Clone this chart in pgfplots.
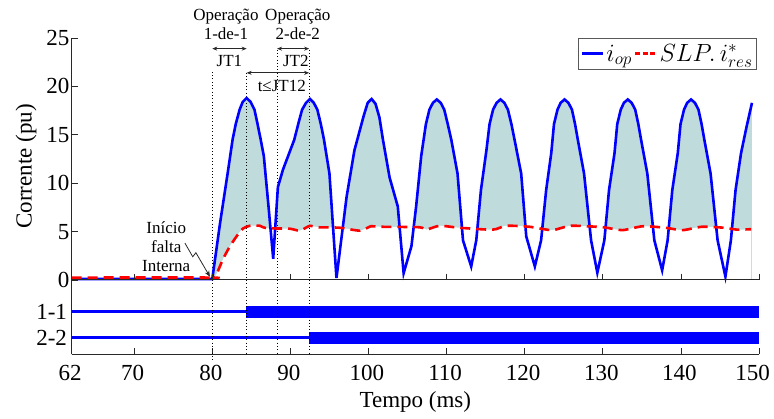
\documentclass[border=0pt]{standalone}
\usepackage{fontspec}
\setmainfont{Liberation Serif}
\usepackage{pgfplots}
\pgfplotsset{compat=1.18}
\usepackage{pgfplotstable}
\usetikzlibrary{arrows.meta}

\definecolor{fillc}{RGB}{191,219,219}
\definecolor{axc}{RGB}{40,40,40}
\newcommand\tickfont{\fontsize{23}{23}\selectfont}
\newcommand\annfont{\fontsize{17}{19}\selectfont}

\pgfplotstableread{
t v
62 0.1
80.0 0.1
81.0 5.9
82.0 11.2
82.6 14.5
83.0 16.1
83.5 17.6
83.9 18.4
84.4 18.8
84.9 18.4
85.4 17.6
85.8 16.1
86.2 14.5
86.6 12.8
87.2 7.6
87.8 2.2
88.4 9.6
89.05 11.4
90.5 14.5
91.0 16.1
91.5 17.6
92.0 18.3
92.5 18.7
93.0 18.3
93.45 17.6
93.9 16.1
94.3 14.5
95.0 11.0
95.9 0.2
97.2 8.6
98.2 13.4
98.9 15.5
99.4 17.0
99.9 18.3
100.4 18.7
100.9 18.2
101.4 16.8
101.85 14.5
102.7 10.6
103.75 7.6
104.5 0.7
105.5 3.5
106.1 7.6
106.75 12.8
107.35 16.1
107.8 17.6
108.25 18.3
108.75 18.65
109.25 18.3
109.7 17.6
110.15 16.1
110.6 14.5
111.4 11.0
112.1 4.1
113.15 1.4
113.8 4.1
114.4 9.3
115.1 13.4
115.5 16.1
115.95 17.6
116.4 18.3
116.9 18.65
117.4 18.3
117.85 17.6
118.3 16.1
118.7 14.5
119.55 11.0
120.2 4.5
121.3 1.4
122.1 4.1
122.75 9.3
123.4 13.1
123.75 16.1
124.2 17.6
124.6 18.3
125.1 18.65
125.6 18.3
126.05 17.6
126.45 16.1
126.8 14.5
127.6 11.0
128.5 4.1
129.3 0.75
130.2 4.1
130.8 9.3
131.5 13.1
131.85 16.1
132.3 17.6
132.7 18.3
133.2 18.65
133.7 18.3
134.15 17.6
134.55 16.1
134.9 14.5
135.7 11.0
136.6 4.1
137.6 1.0
138.3 4.1
138.9 9.3
139.6 13.1
139.95 16.1
140.4 17.6
140.8 18.3
141.3 18.65
141.8 18.3
142.25 17.6
142.65 16.1
143.0 14.5
143.8 11.0
144.7 4.1
145.7 0.35
146.4 4.1
147.0 9.3
147.7 13.1
148.4 15.8
149.1 18.3
}\bluedata

\pgfplotstableread{
t v
62 0.25
79.9 0.25
80.2 0.15
80.6 0.7
81.4 2.2
82.2 3.4
83.1 4.5
83.9 5.3
84.8 5.6
86.1 5.6
86.9 5.35
89.9 5.3
91.2 5.1
92.5 5.6
93.5 5.45
96.3 5.4
98.9 5.1
100.3 5.55
101.4 5.5
106.5 5.45
107.4 5.2
109.1 5.6
111.6 5.4
115.9 5.2
117.6 5.6
120.6 5.5
123.5 5.15
125.9 5.6
130.0 5.45
132.5 5.15
135.1 5.55
138.0 5.4
140.2 5.15
142.7 5.5
145.5 5.4
147.2 5.2
149.0 5.25
}\reddata

\tikzset{dotl/.style={black, line width=0.7pt, dash pattern=on 0.7pt off 2.6pt},
  jt/.style={{Stealth[length=5pt,width=4pt]}-{Stealth[length=5pt,width=4pt]}, line width=0.7pt, axc}}

\pgfplotsset{common/.style={
  scale only axis, width=687.3pt, xmin=62, xmax=150,
  axis x line*=bottom, axis y line*=left,
  axis line style={-, axc, line width=1pt},
  xtick={62,70,80,90,100,110,120,130,140},
  extra x ticks={150},
  tick align=inside, major tick length=6pt,
  tick style={axc, line width=0.8pt},
  hide obscured x ticks=false, hide obscured y ticks=false,
  /pgf/number format/assume math mode=true,
  ticklabel style={font=\tickfont},
  label style={font=\tickfont},
  clip=false,
}}

\begin{document}
\begin{tikzpicture}
\useasboundingbox (-71.7pt,-64.7pt) rectangle (702.3pt,354.3pt);

% lower axis: trip signals
\begin{axis}[common, at={(0pt,0pt)}, anchor=south west, height=74.3pt,
  ymin=0.36, ymax=3.22, ytick={1,2}, yticklabels={2-2,1-1},
  yticklabel style={anchor=east, inner sep=0pt, xshift=-4.5pt},
  xticklabel style={anchor=north, inner sep=0pt, yshift=-10.7pt, xshift=-1.5pt},
  extra x tick style={xticklabel style={xshift=-5pt}},
  xlabel={Tempo (ms)},
  xlabel style={at={(axis description cs:0.5,0)}, anchor=center, yshift=-47.7pt},
]
\addplot[blue, line width=3.5pt] coordinates {(62,2) (84.3,2)};
\addplot[blue, line width=12pt] coordinates {(84.3,2) (150,2)};
\addplot[blue, line width=3.5pt] coordinates {(62,1) (85,1)};
\addplot[blue, line width=2.6pt] coordinates {(85,1) (92.4,1)};
\addplot[blue, line width=12pt] coordinates {(92.4,1) (150,1)};
\draw[dotl] (axis cs:80,3.22) -- (axis cs:80,0.13);
\draw[dotl] (axis cs:84.4,3.22) -- (axis cs:84.4,0.36);
\draw[dotl] (axis cs:88.3,3.22) -- (axis cs:88.3,0.36);
\draw[dotl] (axis cs:92.4,3.22) -- (axis cs:92.4,0.36);
\end{axis}

% upper axis: currents
\begin{axis}[common, at={(0pt,74.3pt)}, anchor=south west, height=242pt,
  ymin=0, ymax=25, ytick={0,5,10,15,20,25}, xticklabels={},
  extra x tick labels={},
  axis on top,
  yticklabel style={anchor=east, inner sep=0pt, xshift=-2pt},
  ylabel={Corrente (pu)},
  ylabel style={at={(axis description cs:-0.0665,0.469)}, anchor=center},
  legend style={at={(0.997,1.0)}, anchor=north east, draw=black!65, line width=0.8pt,
    font=\fontsize{26}{26}\selectfont, inner xsep=2pt, inner ysep=4pt,
    /tikz/every even column/.append style={column sep=0pt}},
  legend columns=-1,
  legend image code/.code={\draw[#1] (0pt,0pt) -- (21pt,0pt);},
]
\addplot[fill=fillc, draw=none, forget plot] table[x=t,y=v] {\bluedata} \closedcycle;
\addplot[fill=white, draw=none, forget plot, smooth, tension=0.4] table[x=t,y=v] {\reddata} \closedcycle;
\draw[dotl] (axis cs:80,21.5) -- (axis cs:80,0);
\draw[dotl] (axis cs:84.4,21.4) -- (axis cs:84.4,0);
\draw[dotl] (axis cs:88.3,23.8) -- (axis cs:88.3,0);
\draw[dotl] (axis cs:92.4,23.8) -- (axis cs:92.4,0);
\addplot[blue, line width=2.6pt] table[x=t,y=v] {\bluedata};
\addlegendentry{$i_{op}$}
\addplot[red, line width=2.6pt, dash pattern=on 10pt off 6pt, smooth, tension=0.4,
  legend image code/.code={\draw[red, line width=2.6pt, dash pattern=on 5pt off 2.5pt] (0pt,0pt) -- (21pt,0pt);}]
  table[x=t,y=v] {\reddata};
\addlegendentry{$SLP.\,i^{*}_{res}$}

\node[font=\annfont, align=center] at (axis cs:81.75,26.4) {Operação\\1-de-1};
\node[font=\annfont, align=center] at (axis cs:90.95,26.4) {Operação\\2-de-2};
\draw[jt] (axis cs:80,23.9) -- (axis cs:84.4,23.9);
\draw[jt] (axis cs:88.3,23.9) -- (axis cs:92.4,23.9);
\draw[jt] (axis cs:84.4,21.4) -- (axis cs:92.4,21.4);
\node[font=\annfont] at (axis cs:82.2,22.6) {JT1};
\node[font=\annfont] at (axis cs:90.7,22.6) {JT2};
\node[font=\annfont] at (axis cs:88.9,20.0) {t≤JT12};
\node[font=\annfont, align=center] at (axis cs:74.1,3.4) {Início\\falta\\Interna};
\draw[-{Stealth[length=6pt,width=5pt]}, line width=0.8pt, axc]
  (axis cs:76.5,3.81) -- (axis cs:77.5,2.4) -- (axis cs:77.9,2.82) -- (axis cs:79.7,0.34);
\end{axis}
\end{tikzpicture}
\end{document}
